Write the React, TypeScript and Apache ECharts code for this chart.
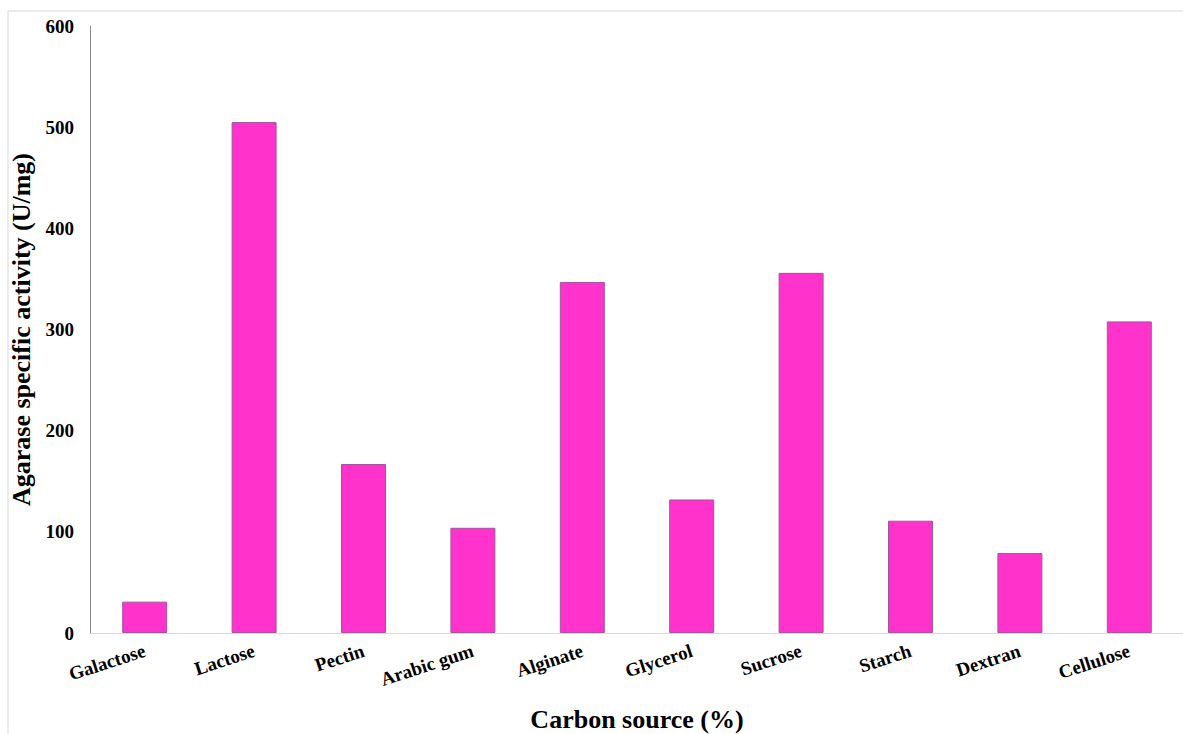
import React, { useEffect, useRef } from "react";
import * as echarts from "echarts";

const categories = ["Galactose", "Lactose", "Pectin", "Arabic gum", "Alginate", "Glycerol", "Sucrose", "Starch", "Dextran", "Cellulose"];
const activity = [31, 505, 167, 104, 347, 132, 356, 111, 79, 308];
const yTicks = { min: 0, max: 600, interval: 100 };

const FONT = "'Liberation Serif', 'Times New Roman', serif";

export default function App() {
  const ref = useRef<HTMLDivElement>(null);
  useEffect(() => {
    if (!ref.current) return;
    const chart = echarts.init(ref.current, null, { renderer: "svg" });
    chart.setOption({
      animation: false,
      backgroundColor: "#ffffff",
      graphic: [
        {
          type: "rect",
          shape: { x: 8, y: 11, width: 1200, height: 760 },
          style: { fill: "none", stroke: "#d9d9d9", lineWidth: 1 },
          silent: true,
        },
      ],
      grid: { left: 90, top: 26, width: 1094, height: 607, containLabel: false, outerBoundsMode: "none" },
      xAxis: {
        type: "category",
        data: categories,
        axisLine: { lineStyle: { color: "#d9d9d9", width: 1 } },
        axisTick: { show: false },
        axisLabel: {
          rotate: 18,
          margin: 17,
          interval: 0,
          color: "#000",
          fontFamily: FONT,
          fontWeight: "bold",
          fontSize: 19,
        },
        name: "Carbon source (%)",
        nameLocation: "middle",
        nameGap: 73,
        nameTextStyle: { color: "#000", fontFamily: FONT, fontWeight: "bold", fontSize: 26 },
      },
      yAxis: {
        type: "value",
        min: yTicks.min,
        max: yTicks.max,
        interval: yTicks.interval,
        splitLine: { show: false },
        axisLine: { show: true, lineStyle: { color: "#8c8c8c", width: 1 } },
        axisTick: { show: false },
        axisLabel: {
          margin: 16,
          color: "#000",
          fontFamily: FONT,
          fontWeight: "bold",
          fontSize: 19,
        },
        name: "Agarase specific activity (U/mg)",
        nameLocation: "middle",
        nameGap: 53,
        nameTextStyle: { color: "#000", fontFamily: FONT, fontWeight: "bold", fontSize: 26 },
      },
      series: [
        {
          type: "bar",
          data: activity,
          barWidth: 45,
          itemStyle: { color: "#ff33cc", borderColor: "#a0559c", borderWidth: 1 },
        },
      ],
    });
    return () => chart.dispose();
  }, []);
  return (
    <div
      ref={ref}
      style={{ position: "absolute", left: 0, top: 0, width: 1183, height: 734, overflow: "hidden" }}
    />
  );
}
